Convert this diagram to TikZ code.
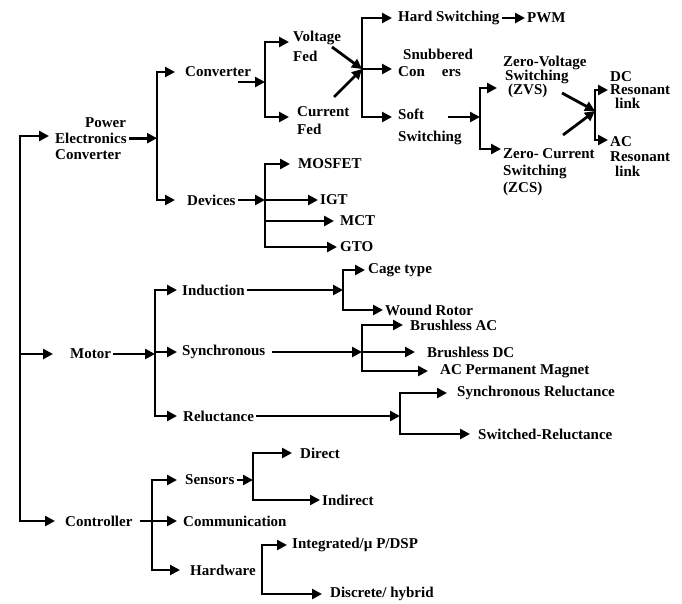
\documentclass[tikz,border=0pt]{standalone}
\usepackage{fontspec}
\setmainfont{Liberation Serif}
\usetikzlibrary{arrows.meta}
\begin{document}
\begin{tikzpicture}[x=1pt,y=-1pt,
  ln/.style={line width=2.8pt},
  ar/.style={ln,-{Triangle[length=10pt,width=10pt]}},
  lbl/.style={font=\bfseries\fontsize{15}{16}\selectfont, inner xsep=2pt, inner ysep=0pt, anchor=west},
  ml/.style={lbl, anchor=north west, align=left}]
\useasboundingbox[fill=white] (0,0) rectangle (682,603);

% nodes
\node[ml] (pe) at (53,117) {\hspace*{30pt}Power\\Electronics\\Converter};
\node[lbl] (motor) at (68,354) {Motor};
\node[lbl] (ctrl) at (63,521) {Controller};
\node[lbl] (conv) at (183,72) {Converter};
\node[lbl] (dev) at (185,200) {Devices};
\node[ml,font=\bfseries\fontsize{15}{20}\selectfont] (volt) at (291,31) {Voltage\\Fed};
\node[ml,font=\bfseries\fontsize{15}{18}\selectfont] (cur) at (295,106) {Current\\Fed};
\node[lbl] (hard) at (396,18) {Hard Switching};
\node[lbl] (pwm) at (525,18) {PWM};
\node[ml,font=\bfseries\fontsize{15}{17}\selectfont] (snub) at (396,49) {\hspace*{5pt}Snubbered\\Con\hspace{17pt}ers};
\node[ml,font=\bfseries\fontsize{15}{22}\selectfont] (soft) at (396,109) {Soft\\Switching};
\node[ml,font=\bfseries\fontsize{15}{14}\selectfont] (zvs) at (501,56) {Zero-Voltage\\\hspace*{2pt}Switching\\\hspace*{5pt}(ZVS)};
\node[ml,font=\bfseries\fontsize{15}{17}\selectfont] (zcs) at (501,148) {Zero- Current\\Switching\\(ZCS)};
\node[ml,font=\bfseries\fontsize{15}{13.5}\selectfont] (dc) at (608,71) {DC\\Resonant\\\hspace*{5pt}link};
\node[ml,font=\bfseries\fontsize{15}{15}\selectfont] (ac) at (608,136) {AC\\Resonant\\\hspace*{5pt}link};
\node[lbl] (mosfet) at (296,164) {MOSFET};
\node[lbl] (igt) at (318,200) {IGT};
\node[lbl] (mct) at (338,221) {MCT};
\node[lbl] (gto) at (338,247) {GTO};
\node[lbl] (ind) at (180,290) {Induction};
\node[lbl] (syn) at (180,352) {Synchronous};
\node[lbl] (rel) at (181,416) {Reluctance};
\node[lbl] (cage) at (366,270) {Cage type};
\node[lbl] (wound) at (383,310) {Wound Rotor};
\node[lbl] (brac) at (408,325) {Brushless AC};
\node[lbl] (brdc) at (425,352) {Brushless DC};
\node[lbl] (acpm) at (438,371) {AC Permanent Magnet};
\node[lbl] (syncrel) at (455,393) {Synchronous Reluctance};
\node[lbl] (swrel) at (476,434) {Switched-Reluctance};
\node[lbl] (sens) at (183,480) {Sensors};
\node[lbl] (comm) at (181,521) {Communication};
\node[lbl] (hw) at (188,570) {Hardware};
\node[lbl] (direct) at (298,453) {Direct};
\node[lbl] (indirect) at (320,500) {Indirect};
\node[lbl] (integ) at (290,545) {Integrated/µ P/DSP};
\node[lbl] (disc) at (328,594) {Discrete/ hybrid};

% junction coordinates
\coordinate (trunk) at (20,354);
\coordinate (b1) at (157,0);
\coordinate (convout) at (238,82);
\coordinate (b2) at (265,82);
\coordinate (voltout) at (332,47);
\coordinate (curout) at (334,97);
\coordinate (j1) at (362,69);
\coordinate (softout) at (448,117);
\coordinate (b4) at (480,117);
\coordinate (zvsout) at (562,93);
\coordinate (zcsout) at (563,135);
\coordinate (j2) at (595,111);
\coordinate (b6) at (265,0);
\coordinate (b7) at (155,0);
\coordinate (b8) at (343,0);
\coordinate (b9) at (362,0);
\coordinate (b10) at (400,0);
\coordinate (b11) at (152,0);
\coordinate (b12) at (253,0);
\coordinate (b13) at (262,570);

% trunk
\draw[ar,shorten >=4pt] (trunk) |- ([yshift=-19pt]pe.north west);
\draw[ar,shorten >=15pt] (trunk) -- (motor.west);
\draw[ar,shorten >=8pt] (trunk) |- (ctrl.west);

% power electronics
\draw[ar] (pe.east) -- (pe.east -| b1);
\draw[ar,shorten >=8pt] (pe.east -| b1) |- (conv.west);
\draw[ar,shorten >=10pt] (pe.east -| b1) |- (dev.west);
\draw[ar] (convout) -- (b2);
\draw[ar,shorten >=2pt] (b2) |- ([yshift=-11pt]volt.north west);
\draw[ar,shorten >=6pt] (b2) |- ([yshift=-11pt]cur.north west);
\draw[ar] (voltout) -- (j1);
\draw[ar] (curout) -- (j1);
\draw[ar,shorten >=4pt] (j1) |- (hard.west);
\draw[ar,shorten >=4pt] (j1) |- ([yshift=-20pt]snub.north west);
\draw[ar,shorten >=4pt] (j1) |- ([yshift=-8pt]soft.north west);
\draw[ar] (hard.east) -- (pwm.west);
\draw[ar] (softout) -- (b4);
\draw[ar,shorten >=4pt] (b4) |- ([yshift=-32pt]zvs.north west);
\draw[ar] (b4) |- ([yshift=-1pt]zcs.north west);
\draw[ar] (zvsout) -- (j2);
\draw[ar] (zcsout) -- (j2);
\draw[ar] (j2) |- ([yshift=-19pt]dc.north west);
\draw[ar] (j2) |- ([yshift=-4pt]ac.north west);

% devices
\draw[ar] (dev.east) -- (dev.east -| b6);
\draw[ar,shorten >=6pt] (dev.east -| b6) |- (mosfet.west);
\draw[ar] (dev.east -| b6) |- (igt.west);
\draw[ar,shorten >=4pt] (dev.east -| b6) |- (mct.west);
\draw[ar,shorten >=1pt] (dev.east -| b6) |- (gto.west);

% motor
\draw[ar] (motor.east) -- (motor.east -| b7);
\draw[ar,shorten >=3pt] (motor.east -| b7) |- (ind.west);
\draw[ar,shorten >=3pt] (motor.east -| b7) |- (syn.west);
\draw[ar,shorten >=4pt] (motor.east -| b7) |- (rel.west);
\draw[ar] (ind.east) -- (ind.east -| b8);
\draw[ar,shorten >=1pt] (ind.east -| b8) |- (cage.west);
\draw[ar] (ind.east -| b8) |- (wound.west);
\draw[ar,shorten <=5pt] (syn.east) -- (syn.east -| b9);
\draw[ar,shorten >=5pt] (syn.east -| b9) |- (brac.west);
\draw[ar,shorten >=10pt] (syn.east -| b9) |- (brdc.west);
\draw[ar,shorten >=10pt] (syn.east -| b9) |- (acpm.west);
\draw[ar] (rel.east) -- (rel.east -| b10);
\draw[ar,shorten >=8pt] (rel.east -| b10) |- (syncrel.west);
\draw[ar,shorten >=6pt] (rel.east -| b10) |- (swrel.west);

% controller
\draw[ln,shorten <=5pt] (ctrl.east) -- (ctrl.east -| b11);
\draw[ar,shorten >=6pt] (ctrl.east -| b11) |- (sens.west);
\draw[ar,shorten >=4pt] (ctrl.east -| b11) |- (comm.west);
\draw[ar,shorten >=8pt] (ctrl.east -| b11) |- (hw.west);
\draw[ar] (sens.east) -- (sens.east -| b12);
\draw[ar,shorten >=6pt] (sens.east -| b12) |- (direct.west);
\draw[ar] (sens.east -| b12) |- (indirect.west);
\draw[ar,shorten >=3pt] (b13) |- (integ.west);
\draw[ar,shorten >=6pt] (b13) |- (disc.west);
\end{tikzpicture}
\end{document}
